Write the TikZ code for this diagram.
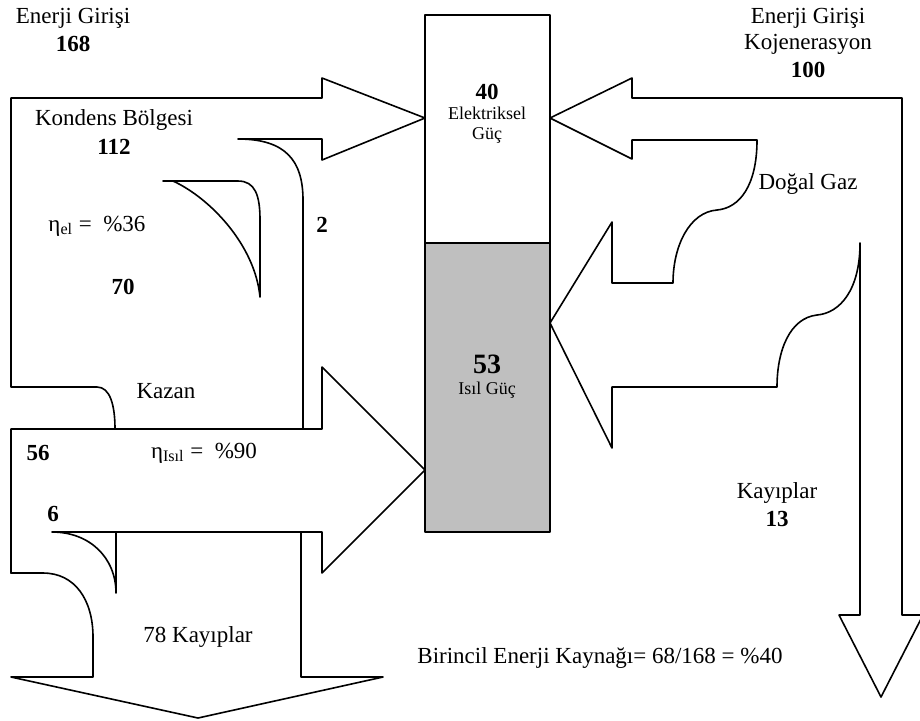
\documentclass[tikz,border=0pt]{standalone}
\usepackage{fontspec}
\setmainfont{Liberation Serif}
\usepackage{xcolor}
\usetikzlibrary{calc}

\begin{document}
\begin{tikzpicture}[x=0.5pt, y=-0.5pt, line cap=round, line join=round,
    lbl/.style={font=\fontsize{11.5}{13.5}\selectfont, inner sep=0pt},
    num/.style={font=\fontsize{11.5}{13.5}\selectfont\bfseries, inner sep=0pt},
    sml/.style={font=\fontsize{9}{11}\selectfont, inner sep=0pt}]
  \useasboundingbox (0,0) rectangle (920,720);
  %--- Power block
    \draw[thick, fill=white] (425, 15) rectangle (550, 243) ;
    \draw[thick, fill=gray!50] (425, 243) rectangle (550, 532) ;
    \node[num] (el) at (487, 92) {40};
    \node[sml] (elname) at (487, 113) {Elektriksel};
    \node[sml] (elgc) at (487, 135) {Güç};
    \node[num, font=\fontsize{14}{16}\selectfont\bfseries] (th) at (487, 364) {53};
    \node[sml] (thname) at (487, 390) {Isıl Güç};
  %--- Condensing zone
    \draw[thick] (115, 429) .. controls (115, 405) and (110, 387) .. (97, 387)
      -- (11, 387) -- (11, 98) -- (322, 98) -- (322, 78) -- (425, 118)
      -- (322, 160) -- (322, 139) -- (238, 139)
      .. controls (285, 139) and (303, 160) .. (303, 200) -- (303, 429) ;
    \draw[thick] (163, 181) -- (238, 181) .. controls (255, 181) and (260, 195) .. (260, 220)
      -- (260, 297) .. controls (255, 245) and (210, 198) .. (173, 181) ;
    \node[lbl] (gin) at (73, 18) {Enerji Girişi};
    \node[num] (ginv) at (73, 44) {168};
    \node[lbl] (kond) at (114, 120) {Kondens Bölgesi};
    \node[num] (kondv) at (114, 147) {112};
    \node[lbl] (etael) at (97, 226) {η\textsubscript{el} = \ \%36};
    \node[num] (el70) at (123, 287) {70};
    \node[num] (el2) at (322, 225) {2};
  %--- Boiler
    \draw[thick] (11, 573) -- (11, 429) -- (322, 429) -- (322, 367) -- (425, 470)
      -- (322, 573) -- (322, 532) -- (52, 532)
      .. controls (90, 532) and (116, 558) .. (116, 593) -- (116, 532) ;
    \node[lbl] (kazan) at (166, 391) {Kazan};
    \node[num] (th56) at (38, 453) {56};
    \node[lbl] (etath) at (204, 453) {η\textsubscript{Isıl} = \ \%90};
    \node[num] (th6) at (53, 514) {6};
  %--- Losses
    \draw[thick] (11, 573) -- (43, 573) .. controls (75, 573) and (93, 600) .. (93, 637)
      -- (93, 677) -- (11, 677) -- (198, 718) -- (383, 677) -- (301, 677) -- (301, 532) ;
    \node[lbl] (loss) at (198, 637) {78 Kayıplar};
  %--- Cogeneration
    \draw[thick] (902, 615) -- (902, 98) -- (632, 98) -- (632, 78) -- (550, 118)
      -- (632, 159) -- (632, 140) -- (757, 140)
      .. controls (757, 185) and (740, 208) .. (717, 210)
      .. controls (690, 212) and (673, 245) .. (673, 283)
      -- (612, 283) -- (612, 222) -- (550, 323) -- (612, 448) -- (612, 387) -- (777, 387)
      .. controls (777, 350) and (790, 318) .. (817, 315)
      .. controls (840, 313) and (860, 290) .. (860, 243)
      -- (860, 615) -- (839, 615) -- (881, 697) -- (923, 615) -- cycle ;
    \node[lbl] (kin) at (808, 18) {Enerji Girişi};
    \node[lbl] (kojen) at (808, 44) {Kojenerasyon};
    \node[num] (kinv) at (808, 70) {100};
    \node[lbl] (gaz) at (808, 184) {Doğal Gaz};
    \node[lbl] (kloss) at (777, 493) {Kayıplar};
    \node[num] (klossv) at (777, 519) {13};
  %--- Primary energy
    \node[lbl] (pri) at (600, 658) {Birincil Enerji Kaynağı= 68/168 = \%40};
\end{tikzpicture}
\end{document}
